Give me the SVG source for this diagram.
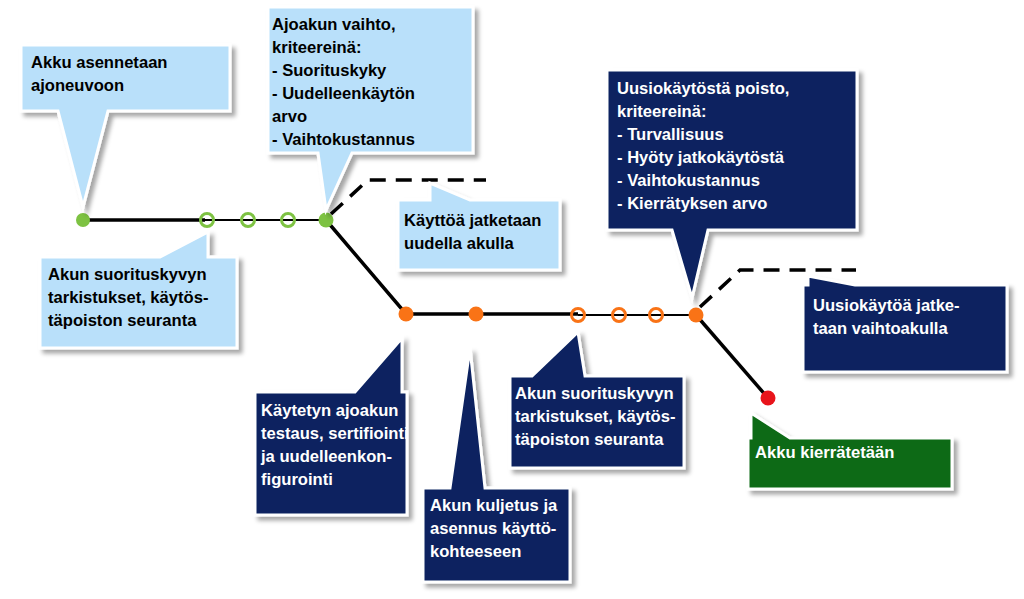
<svg xmlns="http://www.w3.org/2000/svg" width="1024" height="599" viewBox="0 0 1024 599">
<style>
.lb{fill:#b9e0fa}.nv{fill:#0b2461}.gr{fill:#0b6a14}
.co{stroke:#fff;stroke-width:3;filter:url(#sh)}
text{font-family:"Liberation Sans",Arial,sans-serif;font-weight:bold;font-size:16.6px}
.dk{fill:#000}.wt{fill:#fff}
.ln{stroke:#000;stroke-width:3.5;fill:none}
.dl{stroke:#000;stroke-width:3.5;fill:none;stroke-dasharray:16,10}
</style>
<defs><filter id="sh" x="-10%" y="-10%" width="130%" height="130%"><feDropShadow dx="4" dy="4" stdDeviation="2" flood-color="#000" flood-opacity="0.35"/></filter></defs>
<rect width="1024" height="599" fill="#fff"/>
<g id="connectors">
<path class="ln" d="M83 220H205"/>
<path d="M205 220H326" stroke="#000" stroke-width="2"/>
<path class="ln" d="M326 220L406 314H578"/>
<path d="M578 315H696" stroke="#000" stroke-width="2"/>
<path class="ln" d="M696 315L768 398"/>
<path class="dl" d="M331 214L368 180H486"/>
<path class="dl" d="M700 307L740 270H856"/>
</g>
<g id="dots">
<circle cx="83" cy="220" r="7" fill="#7dc242"/>
<circle cx="207" cy="220" r="6.5" fill="none" stroke="#7dc242" stroke-width="3"/>
<circle cx="248" cy="220" r="6.5" fill="none" stroke="#7dc242" stroke-width="3"/>
<circle cx="288" cy="220" r="6.5" fill="none" stroke="#7dc242" stroke-width="3"/>
<circle cx="326" cy="220" r="7.5" fill="#7dc242"/>
<circle cx="406" cy="314" r="7.5" fill="#f97316"/>
<circle cx="476" cy="314" r="7.5" fill="#f97316"/>
<circle cx="578" cy="315" r="6.5" fill="none" stroke="#f97316" stroke-width="3"/>
<circle cx="619" cy="315" r="6.5" fill="none" stroke="#f97316" stroke-width="3"/>
<circle cx="656" cy="315" r="6.5" fill="none" stroke="#f97316" stroke-width="3"/>
<circle cx="696" cy="315" r="7.5" fill="#f97316"/>
<circle cx="768" cy="398" r="7.5" fill="#e8141b"/>
</g>
<g id="n1"><path class="lb co" d="M21 45H230V111H108L83 207L58 111H21Z"/>
<text class="dk" x="31" y="68">Akku asennetaan</text><text class="dk" x="31" y="91">ajoneuvoon</text></g>
<g id="n2"><path class="lb co" d="M268 7H473V153H352L326 210L318 153H268Z"/>
<text class="dk" x="272" y="30">Ajoakun vaihto,</text><text class="dk" x="272" y="53">kriteereinä:</text><text class="dk" x="272" y="76">- Suorituskyky</text><text class="dk" x="272" y="99">- Uudelleenkäytön</text><text class="dk" x="272" y="122">arvo</text><text class="dk" x="272" y="145">- Vaihtokustannus</text></g>
<g id="n3"><path class="lb co" d="M40 257H160L208 232V257H237V348H40Z"/>
<text class="dk" x="48" y="280">Akun suorituskyvyn</text><text class="dk" x="48" y="303">tarkistukset, käytös-</text><text class="dk" x="48" y="326">täpoiston seuranta</text></g>
<g id="n4"><path class="lb co" d="M398 200H430V183L470 200H560V270H398Z"/>
<text class="dk" x="404" y="226">Käyttöä jatketaan</text><text class="dk" x="404" y="249">uudella akulla</text></g>
<g id="n5"><path class="nv co" d="M607 70H857V230H708L692 298L672 230H607Z"/>
<text class="wt" x="617" y="94">Uusiokäytöstä poisto,</text><text class="wt" x="617" y="117">kriteereinä:</text><text class="wt" x="617" y="140">- Turvallisuus</text><text class="wt" x="617" y="163">- Hyöty jatkokäytöstä</text><text class="wt" x="617" y="186">- Vaihtokustannus</text><text class="wt" x="617" y="209">- Kierrätyksen arvo</text></g>
<g id="n6"><path class="nv co" d="M803 285H808V276L855 285H1007V372H803Z"/>
<text class="wt" x="813" y="311">Uusiokäytöä jatke-</text><text class="wt" x="813" y="334">taan vaihtoakulla</text></g>
<g id="n7"><path class="nv co" d="M255 392H355L402 338V392H407V515H255Z"/>
<text class="wt" x="261" y="416">Käytetyn ajoakun</text><text class="wt" x="261" y="439">testaus, sertifiointi</text><text class="wt" x="261" y="462">ja uudelleenkon-</text><text class="wt" x="261" y="485">figurointi</text></g>
<g id="n8"><path class="nv co" d="M423 488H450L470 348L485 488H570V582H423Z"/>
<text class="wt" x="430" y="511">Akun kuljetus ja</text><text class="wt" x="430" y="534">asennus käyttö-</text><text class="wt" x="430" y="557">kohteeseen</text></g>
<g id="n9"><path class="nv co" d="M510 376H532L578 332L585 376H684V468H510Z"/>
<text class="wt" x="515" y="399">Akun suorituskyvyn</text><text class="wt" x="515" y="422">tarkistukset, käytös-</text><text class="wt" x="515" y="445">täpoiston seuranta</text></g>
<g id="n10"><path class="gr co" d="M748 438H751V413L790 438H952V489H748Z"/>
<text class="wt" x="755" y="458">Akku kierrätetään</text></g>
</svg>
